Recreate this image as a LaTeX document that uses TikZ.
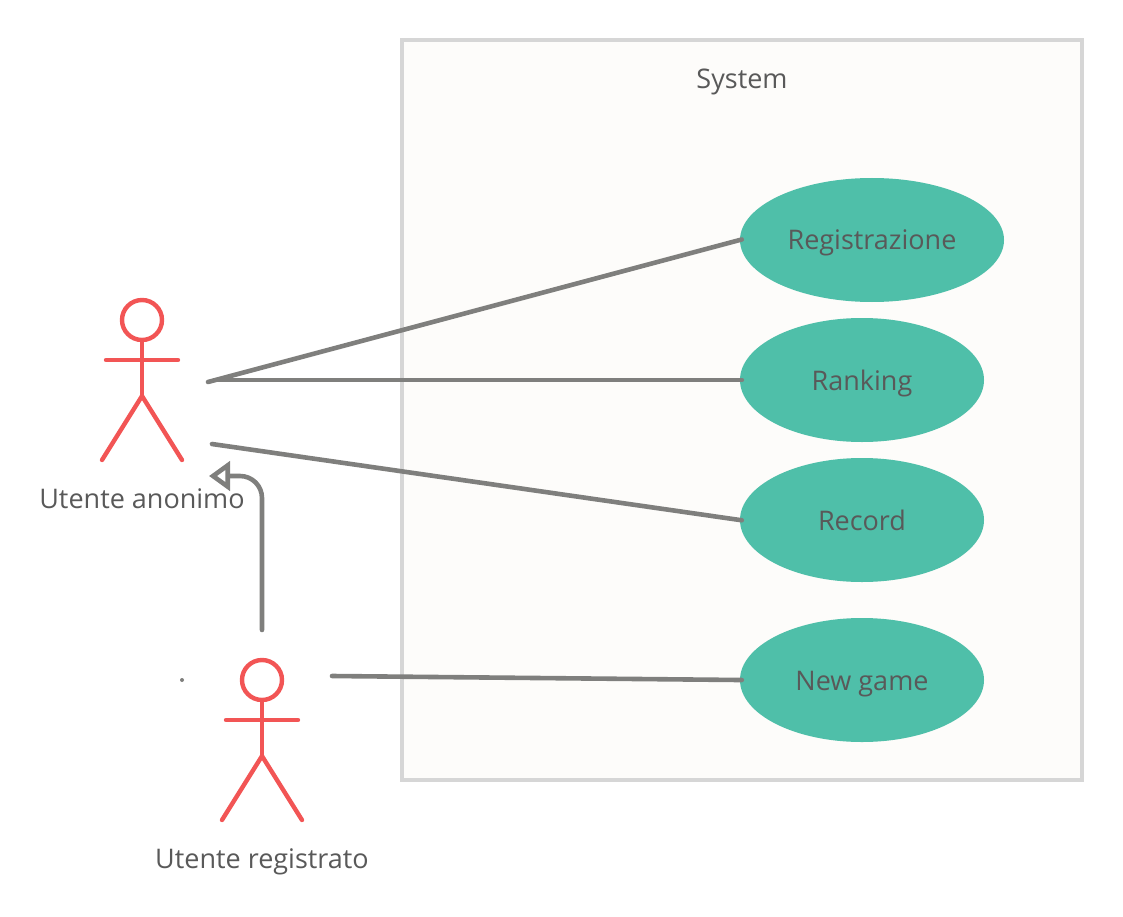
\documentclass[tikz,border=0pt]{standalone}
\usepackage{fontspec}
\setmainfont{Open Sans}
\usetikzlibrary{arrows.meta,shapes.geometric}
\definecolor{actorred}{HTML}{F25555}
\definecolor{usecasefill}{HTML}{4FBFA9}
\definecolor{linegray}{HTML}{7F7F7D}
\definecolor{labelgray}{HTML}{595959}
\definecolor{sysfill}{HTML}{FDFCFA}
\definecolor{sysline}{HTML}{D6D6D6}
\tikzset{
  label text/.style={text=labelgray,font=\fontsize{27}{32}\selectfont,text height=20pt,text depth=0pt,inner sep=0pt},
  usecase/.style={ellipse,fill=usecasefill,label text},
  limb/.style={draw=actorred,line width=4.4pt,line cap=round},
  link/.style={draw=linegray,line width=4.6pt,line cap=round},
}
\begin{document}
\begin{tikzpicture}[x=1pt,y=-1pt]
\useasboundingbox (0,0) rectangle (1123,917);
% system box
\draw [draw=sysline, fill=sysfill, line width=4pt] (402,40) rectangle (1082,780);
\node [label text] (system) at (742,79) {System};
% use cases
\node [usecase, minimum width=264pt, minimum height=124pt] (registrazione) at (872,240) {Registrazione};
\node [usecase, minimum width=244pt, minimum height=124pt] (ranking) at (862,380) {Ranking};
\node [usecase, minimum width=244pt, minimum height=124pt] (record) at (862,520) {Record};
\node [usecase, minimum width=244pt, minimum height=124pt] (newgame) at (862,680) {New game};
% actor anonimo
\node [circle, draw=actorred, line width=4.4pt, minimum size=40pt, inner sep=0pt] (headanon) at (142,320) {};
\coordinate (hipanon) at (142,396);
\draw [limb] (headanon.south) -- (hipanon);
\draw [limb] (106,360) -- (178,360);
\draw [limb] (102,460) -- (hipanon) -- (182,460);
\node [label text] (labelanon) at (142,498) {Utente anonimo};
% actor registrato
\node [circle, draw=actorred, line width=4.4pt, minimum size=40pt, inner sep=0pt] (headreg) at (262,680) {};
\coordinate (hipreg) at (262,756);
\draw [limb] (headreg.south) -- (hipreg);
\draw [limb] (226,720) -- (298,720);
\draw [limb] (222,820) -- (hipreg) -- (302,820);
\node [label text] (labelreg) at (262,858) {Utente registrato};
\node [circle, fill=linegray, minimum size=4pt, inner sep=0pt] (speck) at (182,680) {};
% links
\coordinate (fromreg) at (208,382);
\coordinate (fromrank) at (216,380);
\coordinate (fromrec) at (212,444);
\coordinate (fromgame) at (332,676);
\draw [link, shorten >=-2pt] (fromreg) -- (registrazione.west);
\draw [link, shorten >=-2pt] (fromrank) -- (ranking.west);
\draw [link, shorten >=-2pt] (fromrec) -- (record.west);
\draw [link, shorten >=-2pt] (fromgame) -- (newgame.west);
% generalization
\coordinate (genstart) at (262,630);
\coordinate (genend) at (209,476);
\draw [link, rounded corners=22pt, -{Triangle[open, fill=white, length=21pt, width=29pt, line width=4.6pt]}] (genstart) |- (genend);
\end{tikzpicture}
\end{document}
